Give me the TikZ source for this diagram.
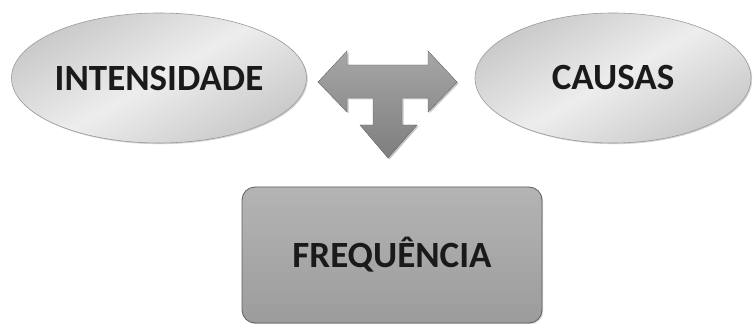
\documentclass[tikz,border=0pt]{standalone}
\usepackage{fontspec}
\setmainfont{Carlito}
\usetikzlibrary{shapes.geometric,shadows}
\definecolor{txt}{HTML}{1A1A1A}
\definecolor{ovalA}{HTML}{C9C9C9}
\definecolor{ovalB}{HTML}{EDEDED}
\definecolor{ovalline}{HTML}{9A9A9A}
\definecolor{boxA}{HTML}{B4B4B4}
\definecolor{boxB}{HTML}{9C9C9C}
\definecolor{boxline}{HTML}{5E5E5E}
\definecolor{arrA}{HTML}{A6A6A6}
\definecolor{arrB}{HTML}{7E7E7E}
\tikzset{
  label text/.style={font=\bfseries\fontsize{37}{42}\selectfont, text=txt},
  oval/.style={ellipse, draw=ovalline, line width=0.6pt, inner sep=0pt,
    shading=axis, top color=ovalA, bottom color=ovalA, middle color=ovalB, shading angle=30,
    drop shadow={shadow xshift=1.2pt, shadow yshift=-1.2pt, opacity=0.35}, label text},
  roundbox/.style={rectangle, rounded corners=13pt, draw=boxline, line width=0.8pt, inner sep=0pt,
    top color=boxA, bottom color=boxB,
    drop shadow={shadow xshift=1.2pt, shadow yshift=-1.2pt, opacity=0.35}, label text},
  tarrow/.style={top color=arrA, bottom color=arrB, draw=arrB!80!black, line width=0.4pt,
    drop shadow={shadow xshift=1.5pt, shadow yshift=-1.5pt, opacity=0.45}}
}
\begin{document}
\begin{tikzpicture}[x=1pt,y=-1pt]
  \useasboundingbox (0,0) rectangle (753,326);
  % the two ovals and the rounded box
  \node[oval, minimum width=292pt, minimum height=130pt] (int) at (159,78) {INTENSIDADE};
  \node[oval, minimum width=276pt, minimum height=130pt] (cau) at (613,78) {CAUSAS};
  \node[roundbox, minimum width=300pt, minimum height=136pt] (freq) at (392,255) {FREQUÊNCIA};
  % T-shaped block arrow: left/right double arrow with a downward branch
  \path[tarrow] (318,82) -- (347,51) -- (347,65) -- (428,65) -- (428,51) -- (457,82)
    -- (428,112) -- (428,98) -- (402,98) -- (402,125) -- (417,125) -- (388,158)
    -- (360,125) -- (373,125) -- (373,98) -- (347,98) -- (347,112) -- cycle;
  \coordinate (tip) at (388,158);
\end{tikzpicture}
\end{document}
